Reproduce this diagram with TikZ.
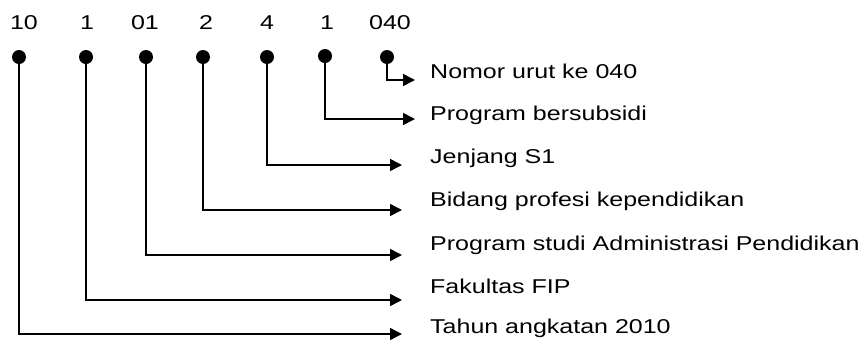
\documentclass[tikz,border=0pt]{standalone}
\usepackage{fontspec}
\setmainfont[FakeStretch=1.25]{Liberation Sans}
\usetikzlibrary{arrows.meta}

\begin{document}
\begin{tikzpicture}[x=1pt,y=-1pt,
        digit/.style={anchor=base,inner sep=0pt,font=\fontsize{20}{24}\selectfont},
        bullet/.style={circle,fill=black,inner sep=0pt,minimum size=14pt},
        desc/.style={anchor=base west,inner sep=0pt,font=\fontsize{20}{24}\selectfont},
        link/.style={line width=1.6pt,-{Triangle[length=12pt,width=12pt]}}]
        \useasboundingbox (0,0) rectangle (864,341);
        % digits of the number
        \node[digit] (n1) at (24,29) {10};
        \node[digit] (n2) at (87,29) {1};
        \node[digit] (n3) at (145,29) {01};
        \node[digit] (n4) at (206,29) {2};
        \node[digit] (n5) at (267,29) {4};
        \node[digit] (n6) at (327,29) {1};
        \node[digit] (n7) at (390,29) {040};
        % dots
        \node[bullet] (d1) at (19,57) {};
        \node[bullet] (d2) at (86,57) {};
        \node[bullet] (d3) at (146,57) {};
        \node[bullet] (d4) at (203,57) {};
        \node[bullet] (d5) at (267,57) {};
        \node[bullet] (d6) at (325,56) {};
        \node[bullet] (d7) at (387,57) {};
        % meanings
        \node[desc] (m7) at (430,78) {Nomor urut ke 040};
        \node[desc] (m6) at (430,120) {Program bersubsidi};
        \node[desc] (m5) at (430,163) {Jenjang S1};
        \node[desc] (m4) at (430,206) {Bidang profesi kependidikan};
        \node[desc] (m3) at (430,250) {Program studi Administrasi Pendidikan};
        \node[desc] (m2) at (430,293) {Fakultas FIP};
        \node[desc] (m1) at (430,333) {Tahun angkatan 2010};
        % arrow tips
        \coordinate (t7) at (415,80);
        \coordinate (t6) at (415,119);
        \coordinate (t5) at (402,165);
        \coordinate (t4) at (402,210);
        \coordinate (t3) at (402,255);
        \coordinate (t2) at (402,300);
        \coordinate (t1) at (402,334);
        \draw[link] (d7) |- (t7);
        \draw[link] (d6) |- (t6);
        \draw[link] (d5) |- (t5);
        \draw[link] (d4) |- (t4);
        \draw[link] (d3) |- (t3);
        \draw[link] (d2) |- (t2);
        \draw[link] (d1) |- (t1);
\end{tikzpicture}
\end{document}
